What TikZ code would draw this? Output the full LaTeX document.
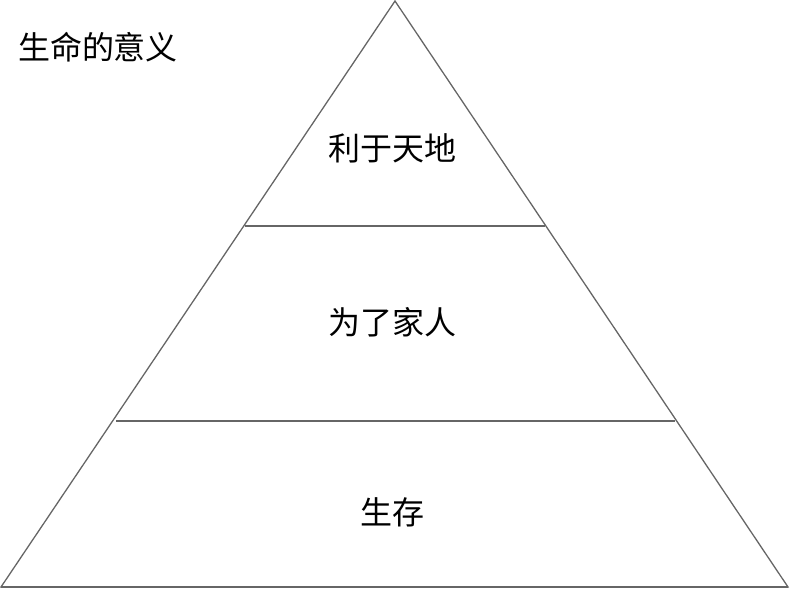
\documentclass[tikz,border=0pt]{standalone}
\usepackage{fontspec}
\newfontfamily\cjk{Noto Sans CJK SC}
\begin{document}
\begin{tikzpicture}[x=1pt,y=-1pt,
  edge/.style={draw=black!60,line width=1.3pt},
  lbl/.style={font=\cjk\fontsize{32}{36}\selectfont,text=black,inner sep=0pt}]
\useasboundingbox (0,0) rectangle (790,590);
\coordinate (A) at (395,1);
\coordinate (L) at (1,587);
\coordinate (R) at (788,587);
\coordinate (u1) at (245,226);
\coordinate (u2) at (545,226);
\coordinate (m1) at (116,421);
\coordinate (m2) at (675,421);
\draw[edge,line join=miter] (A) -- (L) -- (R) -- cycle;
\draw[edge,line width=2.5pt] (L) -- (R);
\draw[edge] (u1) -- (u2);
\draw[edge] (m1) -- (m2);
\node[lbl] (title) at (98,47) {生命的意义};
\node[lbl] (t1) at (392,148) {利于天地};
\node[lbl] (t2) at (392,322) {为了家人};
\node[lbl] (t3) at (392,512) {生存};
\end{tikzpicture}
\end{document}
